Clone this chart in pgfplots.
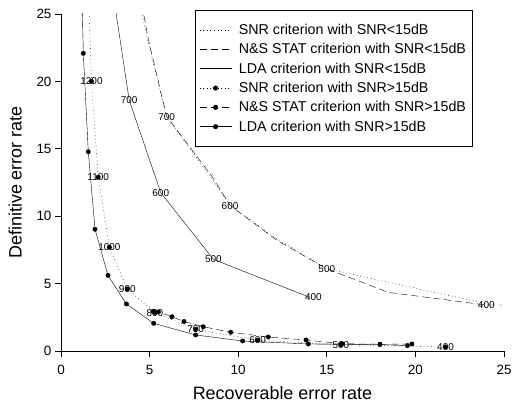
\documentclass[border=0pt]{standalone}
\usepackage{fontspec}
\setmainfont{Liberation Sans}
\usepackage{pgfplots}
\pgfplotsset{compat=1.18}
\begin{document}
\begin{tikzpicture}
\begin{axis}[name=ax, scale only axis, width=443bp, height=337bp,
  xmin=0, xmax=25, ymin=0, ymax=25,
  axis x line*=bottom, axis y line*=left,
  axis line style={-, line width=0.7pt},
  tick align=outside, major tick length=6bp,
  tick style={black, line width=0.7pt},
  xtick={0,5,...,25}, ytick={0,5,...,25},
  ticklabel style={font=\fontsize{13.5}{14}\selectfont},
  xticklabel style={yshift=-5bp},
  /pgf/number format/assume math mode=true,
  xlabel={Recoverable error rate}, ylabel={Definitive error rate},
  label style={font=\fontsize{18}{20}\selectfont},
  xlabel style={yshift=-5bp},
  ylabel style={yshift=8bp},
  every plot/.append style={line width=0.6pt},
  mark size=2.2bp,
  legend cell align=left,
  legend style={at={(0.3025,1.012)}, anchor=north west, draw=black, line width=0.6pt,
    font=\fontsize{14.3}{15}\selectfont, row sep=3.5bp, column sep=5bp, inner xsep=4bp, inner ysep=12bp},
  legend image code/.code={\draw[mark repeat=2,mark phase=2,#1] plot coordinates {(0bp,0bp) (16bp,0bp) (32bp,0bp)};},
]
\addplot[black, dash pattern=on 0.8bp off 2.8bp] coordinates {
 (4.35,26.5) (4.9,23.0) (5.96,17.4) (8.45,12.9) (9.54,10.8) (12.2,8.3) (15.0,6.1) (19.0,4.95) (23.5,3.65)};
\addlegendentry{SNR criterion with SNR<15dB}
\addplot[black, dash pattern=on 7bp off 4bp] coordinates {
 (4.45,26.5) (4.95,23.0) (5.96,17.4) (8.55,12.9) (9.54,10.8) (12.2,8.2) (15.0,6.1) (18.47,4.35) (24.0,3.41) (24.9,3.41)};
\addlegendentry{N\&S STAT criterion with SNR<15dB}
\addplot[black] coordinates {
 (2.54,30) (3.85,18.6) (5.63,11.74) (8.6,6.8) (14.0,4.0)};
\addlegendentry{LDA criterion with SNR<15dB}
\addplot[black, dash pattern=on 0.8bp off 2.8bp, mark=*, mark options={solid}] coordinates {
 (1.72,20.0) (2.1,12.9) (2.73,7.7) (3.74,4.6) (5.3,2.85) (7.6,1.6) (11.1,0.8) (15.8,0.47) (21.7,0.3)};
\addlegendentry{SNR criterion with SNR>15dB}
\addplot[black, dash pattern=on 7bp off 4bp, mark=*, mark options={solid}] coordinates {
 (5.2,2.95) (5.5,2.9) (6.26,2.54) (6.94,2.19) (8.03,1.80) (9.58,1.39) (11.7,1.04) (13.83,0.82) (15.87,0.54) (18.0,0.5) (19.8,0.52)};
\addlegendentry{N\&S STAT criterion with SNR>15dB}
\addplot[black, mark=*] coordinates {
 (1.26,22.08) (1.54,14.78) (1.92,9.03) (2.65,5.61) (3.69,3.49) (5.23,2.05) (7.6,1.19) (10.25,0.74) (13.96,0.52) (18.0,0.48) (19.55,0.4)};
\addlegendentry{LDA criterion with SNR>15dB}
\addplot[black, dash pattern=on 0.8bp off 2.8bp, forget plot] coordinates {(1.55,27) (1.72,20.0)};
\addplot[black, forget plot] coordinates {(1.17,27) (1.26,22.08)};
\begin{scope}[every node/.style={font=\fontsize{10}{10}\selectfont, inner sep=0pt}]
\node at (axis cs:3.85,18.6) {700};
\node at (axis cs:5.63,11.74) {600};
\node at (axis cs:8.6,6.8) {500};
\node at (axis cs:14.24,3.98) {400};
\node at (axis cs:5.96,17.37) {700};
\node at (axis cs:9.54,10.78) {600};
\node at (axis cs:15.0,6.08) {500};
\node at (axis cs:24.0,3.41) {400};
\node at (axis cs:1.72,20.0) {1200};
\node at (axis cs:2.1,12.9) {1100};
\node at (axis cs:2.73,7.7) {1000};
\node at (axis cs:3.74,4.6) {900};
\node at (axis cs:5.3,2.85) {800};
\node at (axis cs:7.6,1.6) {700};
\node at (axis cs:11.1,0.78) {600};
\node at (axis cs:15.8,0.45) {500};
\node at (axis cs:21.7,0.3) {400};
\end{scope}
\end{axis}
\path (ax.south west) ++(-61bp,-55bp) coordinate (bbA);
\path (ax.north east) ++(8bp,14bp) coordinate (bbB);
\pgfresetboundingbox
\path[use as bounding box] (bbA) rectangle (bbB);
\end{tikzpicture}
\end{document}
